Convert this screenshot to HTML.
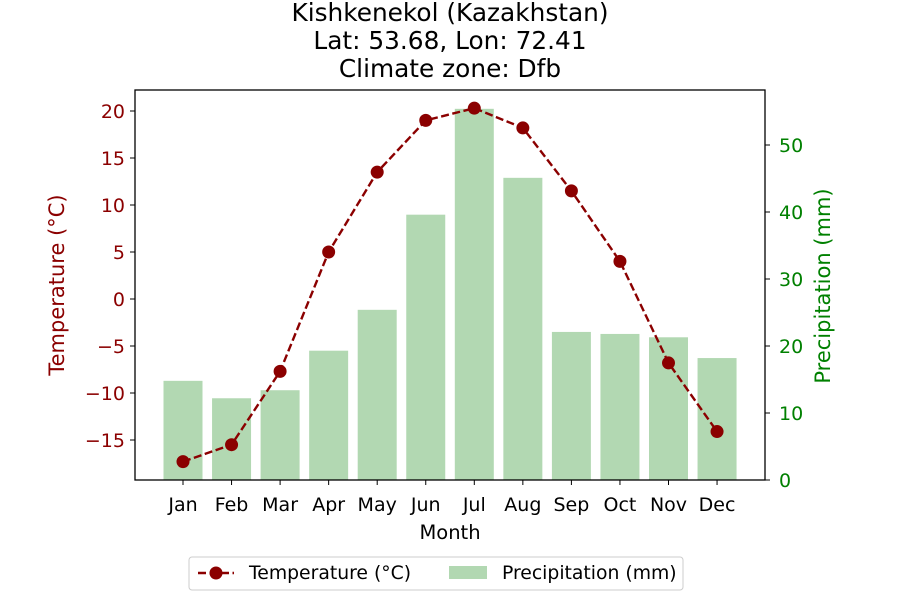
<!DOCTYPE html>
<html><head><meta charset="utf-8"><style>
body{margin:0;background:#fff;font-family:"Liberation Sans","DejaVu Sans",sans-serif;}
svg text{font-family:"DejaVu Sans","Liberation Sans",sans-serif;}
</style></head><body>
<svg id="c" width="900" height="600" xmlns="http://www.w3.org/2000/svg"></svg>
<script>
const months=["Jan","Feb","Mar","Apr","May","Jun","Jul","Aug","Sep","Oct","Nov","Dec"];
const temps=[-17.3,-15.5,-7.7,5.0,13.5,19.0,20.3,18.2,11.5,4.0,-6.8,-14.1];
const precip=[14.8,12.2,13.4,19.3,25.4,39.6,55.4,45.1,22.1,21.8,21.3,18.2];
const tempTicks=[-15,-10,-5,0,5,10,15,20];
const precipTicks=[0,10,20,30,40,50];
const L=135,R=765,T=90,B=480;
const x=i=>183+i*48.55;
const yT=v=>299-v*9.4;
const yP=v=>480-v*6.7;
const svg=document.getElementById('c');
const NS='http://www.w3.org/2000/svg';
function el(tag,attrs,txt){const e=document.createElementNS(NS,tag);for(const k in attrs)e.setAttribute(k,attrs[k]);if(txt!==undefined)e.textContent=txt;svg.appendChild(e);return e;}
['Kishkenekol (Kazakhstan)','Lat: 53.68, Lon: 72.41','Climate zone: Dfb'].forEach((t,i)=>{
 const e=el('text',{x:450,y:21+i*28,'text-anchor':'middle','font-size':'24.8'},t);
 
 
});
precip.forEach((p,i)=>{
 const e=el('rect',{x:x(i)-19.5,y:yP(p),width:39,height:B-yP(p),fill:'#b2d8b2'});
 
 
});
const pts=temps.map((t,i)=>x(i)+','+yT(t)).join(' ');
const ln=el('polyline',{points:pts,fill:'none',stroke:'#8b0000','stroke-width':2.4,'stroke-dasharray':'8,3.5'});


temps.forEach((t,i)=>{
 const e=el('circle',{cx:x(i),cy:yT(t),r:6.5,fill:'#8b0000'});
 
 
});
const fr=el('rect',{x:L,y:T,width:R-L,height:B-T,fill:'none',stroke:'#000','stroke-width':1.3});


months.forEach((m,i)=>{
 el('line',{x1:x(i),x2:x(i),y1:B,y2:B+5,stroke:'#000'});
 const e=el('text',{x:x(i),y:B+31,'text-anchor':'middle','font-size':'19'},m);
 
 
});
tempTicks.forEach(v=>{
 el('line',{x1:L-5,x2:L,y1:yT(v),y2:yT(v),stroke:'#000'});
 const e=el('text',{x:L-10,y:yT(v)+7,'text-anchor':'end','font-size':'19',fill:'#8b0000'},v<0?'\u2212'+(-v):String(v));
 
 
});
precipTicks.forEach(v=>{
 el('line',{x1:R,x2:R+5,y1:yP(v),y2:yP(v),stroke:'#000'});
 const e=el('text',{x:R+14,y:yP(v)+7,'text-anchor':'start','font-size':'19',fill:'#008000'},String(v));
 
 
});
let e=el('text',{x:450,y:539,'text-anchor':'middle','font-size':'19.5'},'Month');

e=el('text',{x:64,y:285,'text-anchor':'middle','font-size':'21',fill:'#8b0000',transform:'rotate(-90 64 285)'},'Temperature (°C)');

e=el('text',{x:830,y:286,'text-anchor':'middle','font-size':'21',fill:'#008000',transform:'rotate(-90 830 286)'},'Precipitation (mm)');

e=el('rect',{x:189,y:557,width:494,height:33,rx:3,fill:'#fff',stroke:'#ccc'});

el('line',{x1:198,x2:234,y1:573,y2:573,stroke:'#8b0000','stroke-width':2.4,'stroke-dasharray':'8,3.5'});
el('circle',{cx:216,cy:573,r:6.5,fill:'#8b0000'});
e=el('text',{x:249,y:579,'font-size':'18.8'},'Temperature (°C)');

el('rect',{x:449,y:566,width:38,height:13,fill:'#b2d8b2'});
e=el('text',{x:502,y:579,'font-size':'18.8'},'Precipitation (mm)');

</script>
</body></html>
